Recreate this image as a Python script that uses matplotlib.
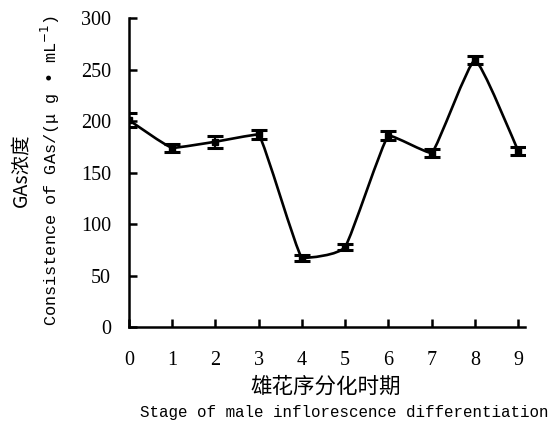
import numpy as np
import matplotlib.pyplot as plt
from matplotlib.path import Path
from matplotlib.patches import PathPatch

stages = [0, 1, 2, 3, 4, 5, 6, 7, 8, 9]
gas = [201, 174, 180, 187, 67, 78, 186, 169, 259, 171]
err = [7, 4, 6, 4, 3, 3, 4, 4, 4, 4]
y_ticks = [0, 50, 100, 150, 200, 250, 300]

num_font = 'Liberation Serif'
mono_font = ['Liberation Mono', 'Noto Sans CJK SC']
cjk_font = ['Noto Sans CJK SC', 'DejaVu Sans']


def smooth_path(xs, ys, k=14.0):
    # very mild bezier smoothing, control points kept inside each segment
    pts = np.column_stack([xs, ys]).astype(float)
    n = len(pts)
    verts = [pts[0]]
    codes = [Path.MOVETO]
    for i in range(n - 1):
        p0 = pts[i - 1] if i > 0 else pts[i]
        p1 = pts[i]
        p2 = pts[i + 1]
        p3 = pts[i + 2] if i + 2 < n else pts[i + 1]
        lo, hi = min(p1[1], p2[1]), max(p1[1], p2[1])
        c1 = p1 + (p2 - p0) / k
        c2 = p2 - (p3 - p1) / k
        c1[1] = np.clip(c1[1], lo, hi)
        c2[1] = np.clip(c2[1], lo, hi)
        verts += [c1, c2, p2]
        codes += [Path.CURVE4] * 3
    return Path(verts, codes)


fig = plt.figure(figsize=(5.51, 4.32), dpi=100)
ax = fig.add_axes([0.234, 0.243, 0.719, 0.715])

ax.add_patch(PathPatch(smooth_path(stages, gas), facecolor='none',
                       edgecolor='black', lw=1.9))
ax.errorbar(stages, gas, yerr=err, fmt='s', color='black', ms=4,
            ecolor='black', elinewidth=1.5, capsize=6, capthick=2.2)

ax.set_xlim(0, 9.16)
ax.set_ylim(0, 300)
ax.set_xticks(stages)
ax.set_yticks(y_ticks)
for s in ['top', 'right']:
    ax.spines[s].set_visible(False)
for s in ['left', 'bottom']:
    ax.spines[s].set_linewidth(1.8)
ax.tick_params(axis='both', direction='in', length=6, width=1.8)
ax.tick_params(axis='y', pad=13)
ax.tick_params(axis='x', pad=17)
for lab in ax.get_xticklabels() + ax.get_yticklabels():
    lab.set_fontfamily(num_font)
    lab.set_fontsize(14.5)

fig.text(0.038, 0.606, 'GAs浓度', rotation=90, ha='center', va='center',
         fontsize=14, family=cjk_font)
fig.text(0.091, 0.606, 'Consistence of GAs/(μ g • mL$^{-1}$)', rotation=90,
         ha='center', va='center', fontsize=12.2, family=mono_font)
fig.text(0.592, 0.104, '雄花序分化时期', ha='center', va='center',
         fontsize=15.5, family=cjk_font)
fig.text(0.624, 0.044, 'Stage of male inflorescence differentiation',
         ha='center', va='center', fontsize=11.4, family=mono_font)

fig.savefig('out.png', dpi=100)
